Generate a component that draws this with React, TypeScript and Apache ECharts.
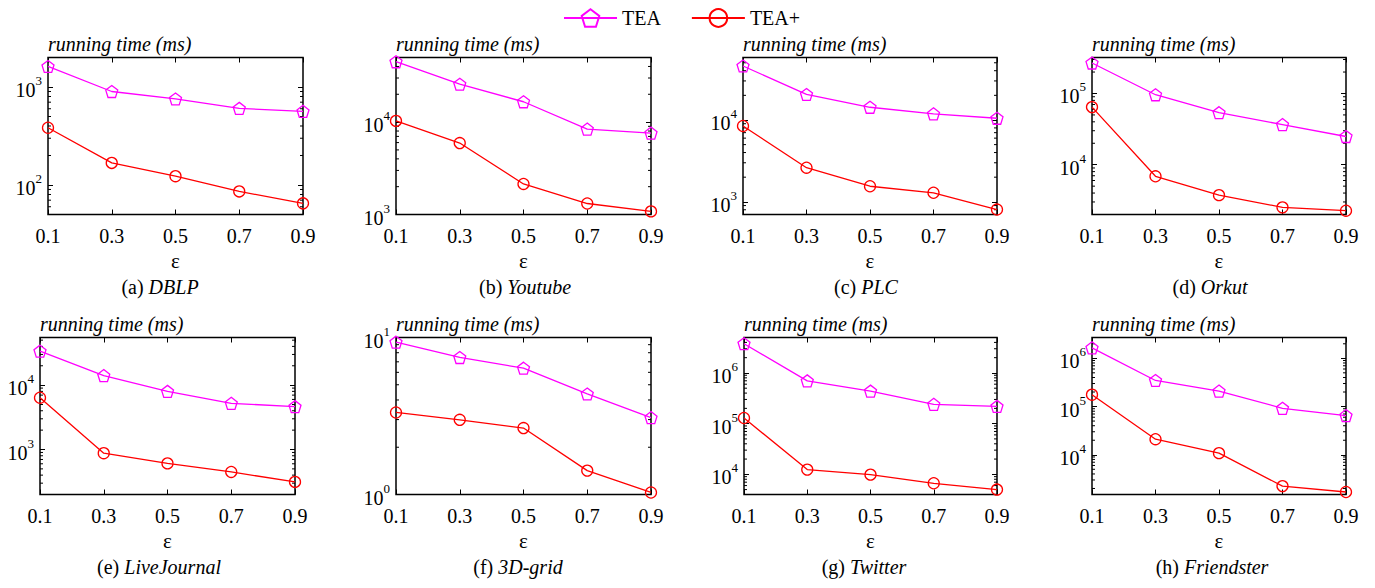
import React, { useEffect, useRef } from 'react';
import * as echarts from 'echarts';

const categories = ['0.1', '0.3', '0.5', '0.7', '0.9'];
const seriesNames = ['TEA', 'TEA+'];
const panelLetters = ['a', 'b', 'c', 'd', 'e', 'f', 'g', 'h'];
const datasetNames = ['DBLP', 'Youtube', 'PLC', 'Orkut', 'LiveJournal', '3D-grid', 'Twitter', 'Friendster'];

const dblpTEA = [1620, 900, 755, 605, 565];
const dblpTEAPlus = [384, 168, 123, 86, 65];
const youtubeTEA = [45000, 25700, 16600, 8400, 7600];
const youtubeTEAPlus = [10300, 5930, 2140, 1315, 1080];
const plcTEA = [45700, 20500, 14300, 11900, 10500];
const plcTEAPlus = [8450, 2610, 1550, 1290, 805];
const orkutTEA = [268000, 96000, 53800, 36600, 24900];
const orkutTEAPlus = [64400, 6880, 3740, 2520, 2260];
const liveJournalTEA = [33700, 14100, 8000, 5220, 4640];
const liveJournalTEAPlus = [6380, 877, 609, 448, 314];
const grid3dTEA = [9.34, 7.46, 6.38, 4.37, 3.09];
const grid3dTEAPlus = [3.33, 2.99, 2.65, 1.42, 1.03];
const twitterTEA = [3770000, 697000, 438000, 240000, 219000];
const twitterTEAPlus = [129000, 12400, 9860, 6660, 5000];
const friendsterTEA = [1650000, 347000, 209000, 92000, 65000];
const friendsterTEAPlus = [176000, 21000, 10800, 2240, 1690];

const teaValues = [dblpTEA, youtubeTEA, plcTEA, orkutTEA, liveJournalTEA, grid3dTEA, twitterTEA, friendsterTEA];
const teaPlusValues = [dblpTEAPlus, youtubeTEAPlus, plcTEAPlus, orkutTEAPlus, liveJournalTEAPlus, grid3dTEAPlus, twitterTEAPlus, friendsterTEAPlus];

const yMin = [50, 1000, 700, 2000, 200, 1, 4000, 1500];
const yMax = [2000, 50000, 58000, 320000, 55000, 10, 5000000, 2700000];

// layout (pixels)
const panelLeft = [48, 396, 743, 1092, 40, 396, 744, 1092];
const panelWidth = [255, 255, 254, 254, 255, 255, 253, 254];
const rowTop = [57.5, 337.5];
const panelHeight = 157;
const captionX = [160, 525, 866, 1210, 159, 518, 864, 1212];

const FONT = '"Liberation Serif", "Times New Roman", serif';
const TEA_COLOR = '#ff00ff';
const TEAP_COLOR = '#ff0000';
const PENTAGON = 'path://M0,-10L9.511,-3.09L5.878,8.09L-5.878,8.09L-9.511,-3.09Z';

function minorTickValues(min: number, max: number): number[] {
  const out: number[] = [];
  const k0 = Math.floor(Math.log10(min));
  const k1 = Math.ceil(Math.log10(max));
  for (let k = k0; k <= k1; k++) {
    for (let m = 2; m <= 9; m++) {
      const v = m * Math.pow(10, k);
      if (v > min * 1.0001 && v < max * 0.9999) out.push(v);
    }
  }
  return out;
}

function buildOption() {
  const grid: any[] = [];
  const xAxis: any[] = [];
  const yAxis: any[] = [];
  const series: any[] = [];
  const graphic: any[] = [];

  for (let i = 0; i < 8; i++) {
    const row = i < 4 ? 0 : 1;
    const top = rowTop[row];
    grid.push({
      left: panelLeft[i],
      top,
      width: panelWidth[i],
      height: panelHeight,
      show: true,
      borderColor: '#000',
      borderWidth: 1.5,
      backgroundColor: 'transparent',
      containLabel: false,
      outerBoundsMode: 'none',
    });
    xAxis.push({
      type: 'category',
      gridIndex: i,
      data: categories,
      boundaryGap: false,
      position: 'bottom',
      axisLine: { show: false },
      axisTick: { show: true, inside: true, length: 5, lineStyle: { color: '#000', width: 1 } },
      axisLabel: { color: '#000', fontSize: 20, fontFamily: FONT, margin: 11 },
      splitLine: { show: false },
      name: 'ε',
      nameLocation: 'middle',
      nameGap: 46,
      nameTextStyle: { color: '#000', fontSize: 21, fontFamily: FONT, verticalAlign: 'middle' },
    });
    xAxis.push({
      type: 'category',
      gridIndex: i,
      data: categories,
      boundaryGap: false,
      position: 'top',
      axisLine: { show: false },
      axisTick: { show: true, inside: true, length: 5, lineStyle: { color: '#000', width: 1 } },
      axisLabel: { show: false },
      splitLine: { show: false },
    });
    const yLabel = {
      color: '#000',
      fontFamily: FONT,
      margin: 6,
      formatter: (v: number) => {
        const lg = Math.log10(v);
        const r = Math.round(lg);
        if (Math.abs(lg - r) > 1e-6) return '';
        return `{b|10}{s|${r}}`;
      },
      rich: {
        b: { fontSize: 20, fontFamily: FONT, color: '#000', verticalAlign: 'bottom', lineHeight: 26 },
        s: { fontSize: 13, fontFamily: FONT, color: '#000', verticalAlign: 'top', lineHeight: 14 },
      },
    };
    yAxis.push({
      type: 'log',
      logBase: 10,
      gridIndex: i,
      min: yMin[i],
      max: yMax[i],
      position: 'left',
      axisLine: { show: false },
      axisTick: { show: true, inside: true, length: 5, lineStyle: { color: '#000', width: 1 } },
      axisLabel: yLabel,
      splitLine: { show: false },
      minorTick: { show: false },
      name: 'running time (ms)',
      nameLocation: 'end',
      nameGap: 4,
      nameTextStyle: { color: '#000', fontSize: 20, fontStyle: 'italic', fontFamily: FONT, align: 'left', verticalAlign: 'bottom' },
    });
    yAxis.push({
      type: 'log',
      logBase: 10,
      gridIndex: i,
      min: yMin[i],
      max: yMax[i],
      position: 'right',
      axisLine: { show: false },
      axisTick: { show: true, inside: true, length: 5, lineStyle: { color: '#000', width: 1 } },
      axisLabel: { show: false },
      splitLine: { show: false },
    });

    const minors = minorTickValues(yMin[i], yMax[i]).map((v) => [0, v]);
    series.push({
      type: 'custom',
      name: 'minor-' + i,
      xAxisIndex: 2 * i,
      yAxisIndex: 2 * i,
      data: minors,
      encode: { x: 0, y: 1 },
      silent: true,
      z: 1,
      renderItem: (params: any, api: any) => {
        const v = api.value(1);
        const l = api.coord([0, v]);
        const r = api.coord([categories.length - 1, v]);
        return {
          type: 'group',
          children: [
            { type: 'line', shape: { x1: l[0], y1: l[1], x2: l[0] + 3, y2: l[1] }, style: { stroke: '#000', lineWidth: 1 } },
            { type: 'line', shape: { x1: r[0] - 3, y1: r[1], x2: r[0], y2: r[1] }, style: { stroke: '#000', lineWidth: 1 } },
          ],
        };
      },
    });

    series.push({
      type: 'line',
      name: seriesNames[0],
      xAxisIndex: 2 * i,
      yAxisIndex: 2 * i,
      data: teaValues[i],
      symbol: PENTAGON,
      symbolSize: 12,
      showSymbol: true,
      z: 3,
      lineStyle: { color: TEA_COLOR, width: 1.3 },
      itemStyle: { color: 'rgba(0,0,0,0)', borderColor: TEA_COLOR, borderWidth: 1.3 },
    });
    series.push({
      type: 'line',
      name: seriesNames[1],
      xAxisIndex: 2 * i,
      yAxisIndex: 2 * i,
      data: teaPlusValues[i],
      symbol: 'circle',
      symbolSize: 11,
      showSymbol: true,
      z: 3,
      lineStyle: { color: TEAP_COLOR, width: 1.3 },
      itemStyle: { color: 'rgba(0,0,0,0)', borderColor: TEAP_COLOR, borderWidth: 1.3 },
    });

    const capY = top + panelHeight + 72;
    graphic.push({
      type: 'text',
      x: captionX[i],
      y: capY,
      style: {
        text: `{n|(${panelLetters[i]}) }{i|${datasetNames[i]}}`,
        align: 'center',
        verticalAlign: 'middle',
        rich: {
          n: { fontSize: 20, fontFamily: FONT, fill: '#000', color: '#000' },
          i: { fontSize: 20, fontFamily: FONT, fontStyle: 'italic', fill: '#000', color: '#000' },
        },
      },
    });
  }

  return {
    animation: false,
    backgroundColor: '#fff',
    legend: {
      data: seriesNames,
      left: 558,
      top: 3,
      itemWidth: 53,
      itemHeight: 22,
      itemGap: 30,
      textStyle: { color: '#000', fontSize: 20, fontFamily: FONT },
    },
    grid,
    xAxis,
    yAxis,
    series,
    graphic,
  };
}

export default function App() {
  const ref = useRef<HTMLDivElement>(null);
  useEffect(() => {
    if (!ref.current) return;
    const chart = echarts.init(ref.current, undefined, { renderer: 'svg' });
    chart.setOption(buildOption() as any);
    return () => chart.dispose();
  }, []);
  return (
    <div
      ref={ref}
      style={{ position: 'absolute', left: 0, top: 0, width: 1375, height: 588, background: '#fff' }}
    />
  );
}
